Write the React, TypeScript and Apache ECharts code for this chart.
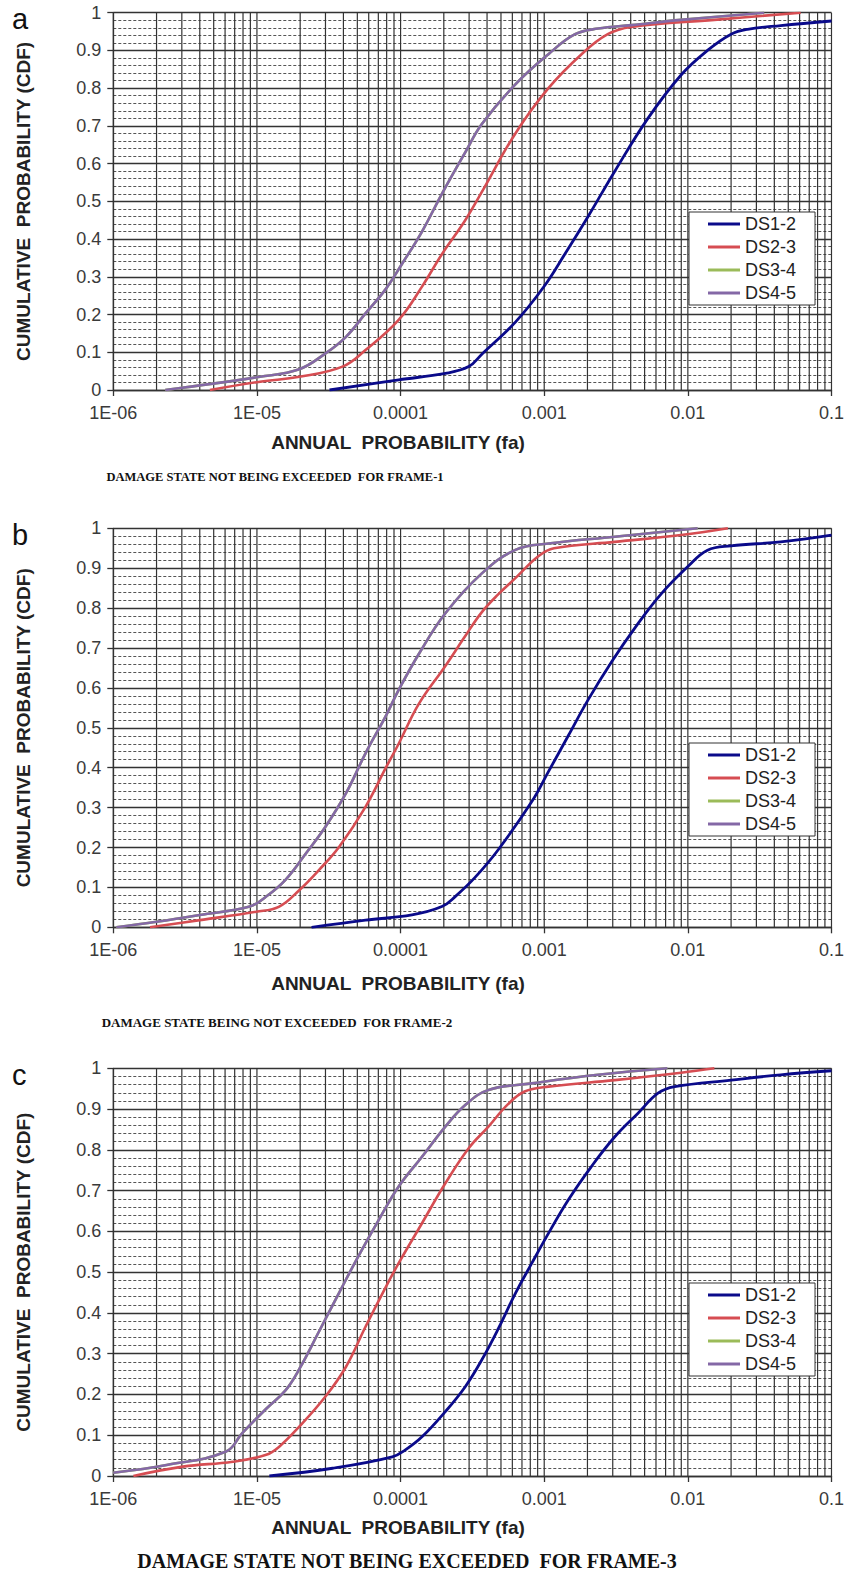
import React, { useEffect, useRef } from "react";
import * as echarts from "echarts";

// ---------- DATA (annual probability, CDF) ----------
const SERIES_NAMES = ["DS1-2", "DS2-3", "DS3-4", "DS4-5"];
const X_TICKS = [1e-6, 1e-5, 1e-4, 1e-3, 1e-2, 1e-1];
const GRID_MULTIPLIERS = [1, 2, 3, 4, 5, 6, 7, 8, 9];

// Frame-1
const F1_DS12: [number, number][] = [
  [3.2e-5, 0], [9.7e-5, 0.027], [2.05e-4, 0.044], [2.98e-4, 0.062], [3.68e-4, 0.095],
  [6.3e-4, 0.18], [1.0e-3, 0.275], [1.39e-3, 0.36], [2.02e-3, 0.46], [3.1e-3, 0.58],
  [5.27e-3, 0.72], [8.97e-3, 0.835], [1.37e-2, 0.9], [2.0e-2, 0.943], [2.6e-2, 0.956],
  [4.43e-2, 0.966], [0.1, 0.978],
];
const F1_DS23: [number, number][] = [
  [4.7e-6, 0], [1.05e-5, 0.022], [1.97e-5, 0.035], [3.94e-5, 0.062], [5.7e-5, 0.106],
  [9.7e-5, 0.186], [1.41e-4, 0.274], [1.94e-4, 0.36], [2.82e-4, 0.45], [3.68e-4, 0.525],
  [6.3e-4, 0.68], [1.07e-3, 0.8], [1.82e-3, 0.89], [2.77e-3, 0.943], [4.04e-3, 0.962],
  [1.53e-2, 0.981], [6.1e-2, 1.0],
];
const F1_DS45: [number, number][] = [
  [2.3e-6, 0], [1.05e-5, 0.035], [1.97e-5, 0.055], [3.0e-5, 0.097], [4.17e-5, 0.141],
  [5.7e-5, 0.203], [7.9e-5, 0.268], [1.03e-4, 0.336], [1.41e-4, 0.42], [1.94e-4, 0.52],
  [2.82e-4, 0.63], [3.68e-4, 0.705], [6.3e-4, 0.81], [1.07e-3, 0.89], [1.64e-3, 0.943],
  [2.37e-3, 0.958], [4.04e-3, 0.967], [8.97e-3, 0.981], [3.4e-2, 1.0],
];
const F1_DS34 = F1_DS45;

// Frame-2
const F2_DS12: [number, number][] = [
  [2.4e-5, 0], [5.7e-5, 0.018], [1.2e-4, 0.031], [1.94e-4, 0.052], [2.4e-4, 0.077],
  [3.3e-4, 0.125], [4.8e-4, 0.195], [8.2e-4, 0.315], [1.07e-3, 0.39], [1.47e-3, 0.48],
  [2.02e-3, 0.57], [2.94e-3, 0.665], [4.27e-3, 0.75], [6.5e-3, 0.835], [1.0e-2, 0.904],
  [1.37e-2, 0.945], [2.0e-2, 0.956], [4.43e-2, 0.966], [0.1, 0.983],
];
const F2_DS23: [number, number][] = [
  [1.8e-6, 0], [4.0e-6, 0.018], [9.9e-6, 0.039], [1.43e-5, 0.052], [1.97e-5, 0.093],
  [2.71e-5, 0.144], [3.74e-5, 0.202], [5.7e-5, 0.302], [7.9e-5, 0.4], [9.7e-5, 0.46],
  [1.34e-4, 0.56], [2.05e-4, 0.655], [2.82e-4, 0.73], [3.68e-4, 0.79], [4.8e-4, 0.835],
  [6.3e-4, 0.875], [9.1e-4, 0.93], [1.17e-3, 0.95], [3.1e-3, 0.966], [8.97e-3, 0.983],
  [1.9e-2, 1.0],
];
const F2_DS45: [number, number][] = [
  [1.05e-6, 0], [2.0e-6, 0.014], [4.0e-6, 0.031], [8.9e-6, 0.052], [1.16e-5, 0.077],
  [1.58e-5, 0.119], [2.19e-5, 0.185], [3.0e-5, 0.252], [4.17e-5, 0.336], [5.7e-5, 0.436],
  [7.9e-5, 0.53], [9.7e-5, 0.595], [1.34e-4, 0.685], [2.05e-4, 0.787], [3.68e-4, 0.887],
  [6.3e-4, 0.946], [1.07e-3, 0.962], [3.1e-3, 0.979], [1.17e-2, 1.0],
];
const F2_DS34 = F2_DS45;

// Frame-3
const F3_DS12: [number, number][] = [
  [1.22e-5, 0], [3.36e-5, 0.019], [8.75e-5, 0.047], [1.08e-4, 0.064], [1.41e-4, 0.096],
  [2.05e-4, 0.158], [2.82e-4, 0.219], [3.68e-4, 0.285], [4.8e-4, 0.362], [6.3e-4, 0.448],
  [8.2e-4, 0.522], [1.07e-3, 0.595], [1.47e-3, 0.677], [2.13e-3, 0.759], [3.1e-3, 0.832],
  [4.5e-3, 0.89], [6.2e-3, 0.939], [8.1e-3, 0.955], [2.0e-2, 0.971], [4.43e-2, 0.984],
  [0.1, 0.994],
];
const F3_DS23: [number, number][] = [
  [1.38e-6, 0], [3.05e-6, 0.023], [6.8e-6, 0.035], [1.16e-5, 0.052], [1.43e-5, 0.072],
  [1.97e-5, 0.121], [3.0e-5, 0.195], [4.17e-5, 0.268], [5.7e-5, 0.366], [7.9e-5, 0.464],
  [9.7e-5, 0.522], [1.41e-4, 0.62], [2.05e-4, 0.718], [2.98e-4, 0.804], [4.09e-4, 0.857],
  [5.6e-4, 0.912], [7.3e-4, 0.943], [1.07e-3, 0.955], [3.1e-3, 0.971], [8.97e-3, 0.989],
  [1.53e-2, 1.0],
];
const F3_DS45: [number, number][] = [
  [1.0e-6, 0.008], [2.35e-6, 0.027], [6.1e-6, 0.06], [7.9e-6, 0.105], [1.16e-5, 0.165],
  [1.58e-5, 0.21], [1.97e-5, 0.262], [2.71e-5, 0.355], [3.74e-5, 0.45], [5.1e-5, 0.54],
  [7.1e-5, 0.63], [9.7e-5, 0.71], [1.41e-4, 0.783], [2.05e-4, 0.857], [2.82e-4, 0.91],
  [4.09e-4, 0.947], [8.2e-4, 0.963], [2.37e-3, 0.984], [7.2e-3, 1.0],
];
const F3_DS34 = F3_DS45;

const PANEL_LABELS = ["a", "b", "c"];
const CAPTIONS = [
  "DAMAGE STATE NOT BEING EXCEEDED  FOR FRAME-1",
  "DAMAGE STATE BEING NOT EXCEEDED  FOR FRAME-2",
  "DAMAGE STATE NOT BEING EXCEEDED  FOR FRAME-3",
];
const PANEL_DATA = [
  [F1_DS12, F1_DS23, F1_DS34, F1_DS45],
  [F2_DS12, F2_DS23, F2_DS34, F2_DS45],
  [F3_DS12, F3_DS23, F3_DS34, F3_DS45],
];

// ---------- STYLE / LAYOUT ----------
const COLORS = ["#0a0a8a", "#d64d52", "#9bbb59", "#8468a6"];
const LAYOUT = [
  { top: 12.7, height: 377.3, legendTop: 212, nameY: 442, captionY: 477, capX: 275, capSize: 12.5 },
  { top: 528.3, height: 399, legendTop: 743, nameY: 983, captionY: 1022, capX: 277, capSize: 13 },
  { top: 1068.3, height: 407.7, legendTop: 1283, nameY: 1527, captionY: 1561, capX: 407, capSize: 20 },
];
const GRID_LEFT = 113.3;
const GRID_RIGHT = 847 - 835;
const GRID_COLOR = "#333333";

function verticalGridData(): any[] {
  const out: any[] = [];
  for (let d = -6; d <= -2; d++) {
    for (const k of GRID_MULTIPLIERS) {
      const v = Number((k * Math.pow(10, d)).toPrecision(2));
      out.push([v, 0], [v, 1], [v, "-"]);
    }
  }
  out.push([0.1, 0], [0.1, 1]);
  return out;
}

function fmtX(v: number): string {
  const e = Math.round(Math.log10(v));
  if (e <= -5) return "1E-0" + -e;
  return String(Number(Math.pow(10, e).toPrecision(1)));
}

export default function App() {
  const ref = useRef<HTMLDivElement>(null);
  useEffect(() => {
    document.body.style.margin = "0";
    if (!ref.current) return;
    const chart = echarts.init(ref.current, null, { renderer: "svg" });
    const vgrid = verticalGridData();
    const grid: any[] = [];
    const xAxis: any[] = [];
    const yAxis: any[] = [];
    const series: any[] = [];
    const legend: any[] = [];
    const graphic: any[] = [];

    LAYOUT.forEach((g, i) => {
      grid.push({ left: GRID_LEFT, right: GRID_RIGHT, top: g.top, height: g.height, containLabel: false });
      xAxis.push({
        type: "log",
        logBase: 10,
        gridIndex: i,
        min: X_TICKS[0],
        max: X_TICKS[X_TICKS.length - 1],
        splitNumber: 5,
        axisLine: { show: true, lineStyle: { color: GRID_COLOR, width: 1.3 } },
        axisTick: { show: true, inside: false, length: 6, lineStyle: { color: GRID_COLOR, width: 1.3 } },
        axisLabel: {
          formatter: fmtX,
          fontFamily: "Liberation Sans",
          fontSize: 18,
          color: "#3a3a3a",
          margin: 14,
          showMinLabel: true,
          showMaxLabel: true,
        },
        splitLine: { show: false },
      });
      yAxis.push({
        type: "value",
        gridIndex: i,
        min: 0,
        max: 1,
        interval: 0.1,
        name: "CUMULATIVE  PROBABILITY (CDF)",
        nameLocation: "middle",
        nameGap: 80,
        nameTextStyle: { fontFamily: "Liberation Sans", fontWeight: "bold", fontSize: 19, color: "#222" },
        axisLine: { show: true, lineStyle: { color: GRID_COLOR, width: 1.3 } },
        axisTick: { show: true, inside: false, length: 6, lineStyle: { color: GRID_COLOR, width: 1.3 } },
        axisLabel: {
          formatter: (v: number) => String(Math.round(v * 10) / 10),
          fontFamily: "Liberation Sans",
          fontSize: 18,
          color: "#3a3a3a",
          margin: 12,
        },
        splitLine: { show: true, lineStyle: { color: GRID_COLOR, width: 1.3 } },
        minorTick: { show: false, splitNumber: 5 },
        minorSplitLine: { show: true, lineStyle: { color: "#555", width: 1, type: [3, 2] } },
      });
      // vertical grid lines (1..9 per decade)
      series.push({
        type: "line",
        xAxisIndex: i,
        yAxisIndex: i,
        data: vgrid,
        showSymbol: false,
        connectNulls: false,
        lineStyle: { color: GRID_COLOR, width: 1.2 },
        silent: true,
        z: 1,
      });
      SERIES_NAMES.forEach((name, k) => {
        series.push({
          type: "line",
          name,
          xAxisIndex: i,
          yAxisIndex: i,
          data: PANEL_DATA[i][k],
          showSymbol: false,
          smooth: 0.4,
          lineStyle: { color: COLORS[k], width: k === 0 ? 2.8 : 2.6 },
          itemStyle: { color: COLORS[k] },
          z: k === 2 ? 3 : 4,
        });
      });
      legend.push({
        show: true,
        data: SERIES_NAMES,
        orient: "vertical",
        left: 689,
        top: g.legendTop,
        icon: "rect",
        itemWidth: 32,
        itemHeight: 3,
        itemGap: 5,
        padding: [3, 19, 3, 19],
        backgroundColor: "#ffffff",
        borderColor: "#333",
        borderWidth: 1,
        selectedMode: false,
        textStyle: { fontFamily: "Liberation Sans", fontSize: 18, color: "#222" },
        z: 10,
      });
      graphic.push({
        type: "text",
        left: 12,
        top: g.top - 8,
        style: { text: PANEL_LABELS[i], fontFamily: "Liberation Sans", fontSize: 29, fill: "#111" },
      });
      graphic.push({
        type: "text",
        x: 398,
        y: g.nameY,
        style: {
          text: "ANNUAL  PROBABILITY (fa)",
          fontFamily: "Liberation Sans",
          fontWeight: "bold",
          fontSize: 19,
          fill: "#222",
          align: "center",
          verticalAlign: "middle",
        },
      });
      graphic.push({
        type: "text",
        x: g.capX,
        y: g.captionY,
        style: {
          text: CAPTIONS[i],
          fontFamily: "Liberation Serif",
          fontWeight: "bold",
          fontSize: g.capSize,
          fill: "#111",
          align: "center",
          verticalAlign: "middle",
        },
      });
    });

    chart.setOption({
      animation: false,
      backgroundColor: "#ffffff",
      grid,
      xAxis,
      yAxis,
      series,
      legend,
      graphic,
    });
    return () => chart.dispose();
  }, []);
  return <div ref={ref} style={{ width: 847, height: 1571 }} />;
}
